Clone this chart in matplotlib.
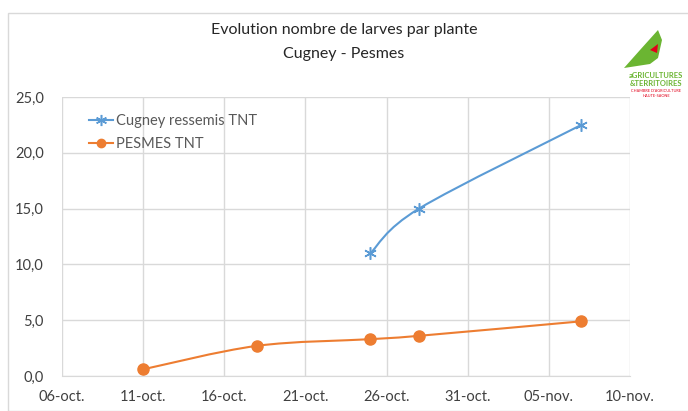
import matplotlib
matplotlib.use('Agg')
import matplotlib.pyplot as plt
import matplotlib.dates as dates
from matplotlib.path import Path
from matplotlib.patches import PathPatch, Polygon, Rectangle
import datetime

# data
cugney_dates = ['2019-10-25', '2019-10-28', '2019-11-07']
cugney_vals = [11.0, 15.0, 22.5]
pesmes_dates = ['2019-10-11', '2019-10-18', '2019-10-25', '2019-10-28', '2019-11-07']
pesmes_vals = [0.6, 2.7, 3.3, 3.6, 4.9]
tick_dates = ['2019-10-06', '2019-10-11', '2019-10-16', '2019-10-21',
              '2019-10-26', '2019-10-31', '2019-11-05', '2019-11-10']
tick_labels = ['06-oct.', '11-oct.', '16-oct.', '21-oct.', '26-oct.', '31-oct.', '05-nov.', '10-nov.']
y_ticks = [0, 5, 10, 15, 20, 25]

plt.rcParams['font.family'] = ['Lato', 'DejaVu Sans']


def to_num(lst):
    return dates.date2num([datetime.datetime.strptime(d, '%Y-%m-%d') for d in lst])


def smooth_path(x, y, t=0.5):
    # excel-like smoothed line : catmull-rom converted to bezier segments
    verts = [(x[0], y[0])]
    codes = [Path.MOVETO]
    n = len(x)
    for i in range(n - 1):
        x0, y0 = (x[i - 1], y[i - 1]) if i > 0 else (x[i], y[i])
        x3, y3 = (x[i + 2], y[i + 2]) if i + 2 < n else (x[i + 1], y[i + 1])
        c1 = (x[i] + (x[i + 1] - x0) * t / 3, y[i] + (y[i + 1] - y0) * t / 3)
        c2 = (x[i + 1] - (x3 - x[i]) * t / 3, y[i + 1] - (y3 - y[i]) * t / 3)
        verts += [c1, c2, (x[i + 1], y[i + 1])]
        codes += [Path.CURVE4] * 3
    return Path(verts, codes)


blue = '#5B9BD5'
orange = '#ED7D31'

fig = plt.figure(figsize=(6.88, 4.11), dpi=100)
# chart border
fig.patches.append(Rectangle((8 / 688, 0.0), 1.0, 1 - 13 / 411, transform=fig.transFigure,
                             fill=False, edgecolor='#D9D9D9', linewidth=1))
ax = fig.add_axes([62 / 688, 35 / 411, (630 - 62) / 688, (376 - 97) / 411])

xc = to_num(cugney_dates)
xp = to_num(pesmes_dates)
ax.add_patch(PathPatch(smooth_path(xc, cugney_vals), fill=False, edgecolor=blue, linewidth=1.5))
ax.add_patch(PathPatch(smooth_path(xp, pesmes_vals), fill=False, edgecolor=orange, linewidth=1.5))
ax.plot(xc, cugney_vals, linestyle='none', marker=(6, 2, 0), markersize=9, markeredgecolor=blue,
        markeredgewidth=1.1)
ax.plot(xp, pesmes_vals, linestyle='none', marker='o', markersize=8, color=orange)
# legend handles with line through marker
h1, = ax.plot([], [], color=blue, marker=(6, 2, 0), markersize=8, markeredgewidth=1.1, linewidth=1.5)
h2, = ax.plot([], [], color=orange, marker='o', markersize=6, linewidth=1.5)
leg = ax.legend([h1, h2], ['Cugney ressemis TNT', 'PESMES TNT'], loc='upper left',
                bbox_to_anchor=(0.025, 0.985), frameon=False, fontsize=10.5, handlelength=1.6,
                handletextpad=0.2, labelspacing=0.6)
for txt in leg.get_texts():
    txt.set_color('#595959')

xt = to_num(tick_dates)
ax.set_xlim(xt[0], xt[-1])
ax.set_ylim(0, 25)
ax.set_xticks(xt)
ax.set_xticklabels(tick_labels)
ax.set_yticks(y_ticks)
ax.set_yticklabels([('%.1f' % v).replace('.', ',') for v in y_ticks])
ax.grid(True, color='#D9D9D9', linewidth=1)
ax.set_axisbelow(True)
for s in ['top', 'right', 'left']:
    ax.spines[s].set_visible(False)
ax.spines['bottom'].set_color('#D9D9D9')
ax.tick_params(axis='both', length=0, labelsize=10.5, colors='#404040')
ax.tick_params(axis='x', pad=10)
ax.tick_params(axis='y', pad=13)

fig.text(0.5, 1 - 30 / 411, 'Evolution nombre de larves par plante', ha='center', va='center',
         fontsize=11.5, color='#262626')
fig.text(0.5, 1 - 54 / 411, 'Cugney - Pesmes', ha='center', va='center', fontsize=11.5, color='#262626')

# logo (rough)
fig.patches.append(Polygon([(624 / 688, 1 - 68 / 411), (640 / 688, 1 - 50 / 411), (658 / 688, 1 - 30 / 411),
                            (662 / 688, 1 - 40 / 411), (658 / 688, 1 - 58 / 411), (650 / 688, 1 - 64 / 411)],
                           closed=True, transform=fig.transFigure, facecolor='#6BB532', edgecolor='none'))
fig.patches.append(Polygon([(650 / 688, 1 - 50 / 411), (658 / 688, 1 - 44 / 411), (657 / 688, 1 - 53 / 411)],
                           closed=True, transform=fig.transFigure, facecolor='#E2001A', edgecolor='none'))
fig.text(656 / 688, 1 - 76 / 411, 'aGRICULTURES', ha='center', va='center', fontsize=5.5,
         color='#6BB532', fontweight='bold')
fig.text(656 / 688, 1 - 84 / 411, '&TERRITOIRES', ha='center', va='center', fontsize=5.5,
         color='#6BB532', fontweight='bold')
fig.text(656 / 688, 1 - 91 / 411, "CHAMBRE D'AGRICULTURE", ha='center', va='center', fontsize=2.8,
         color='#E2001A')
fig.text(656 / 688, 1 - 96 / 411, 'HAUTE-SAONE', ha='center', va='center', fontsize=2.8, color='#E2001A')

plt.savefig('out.png', dpi=100)
